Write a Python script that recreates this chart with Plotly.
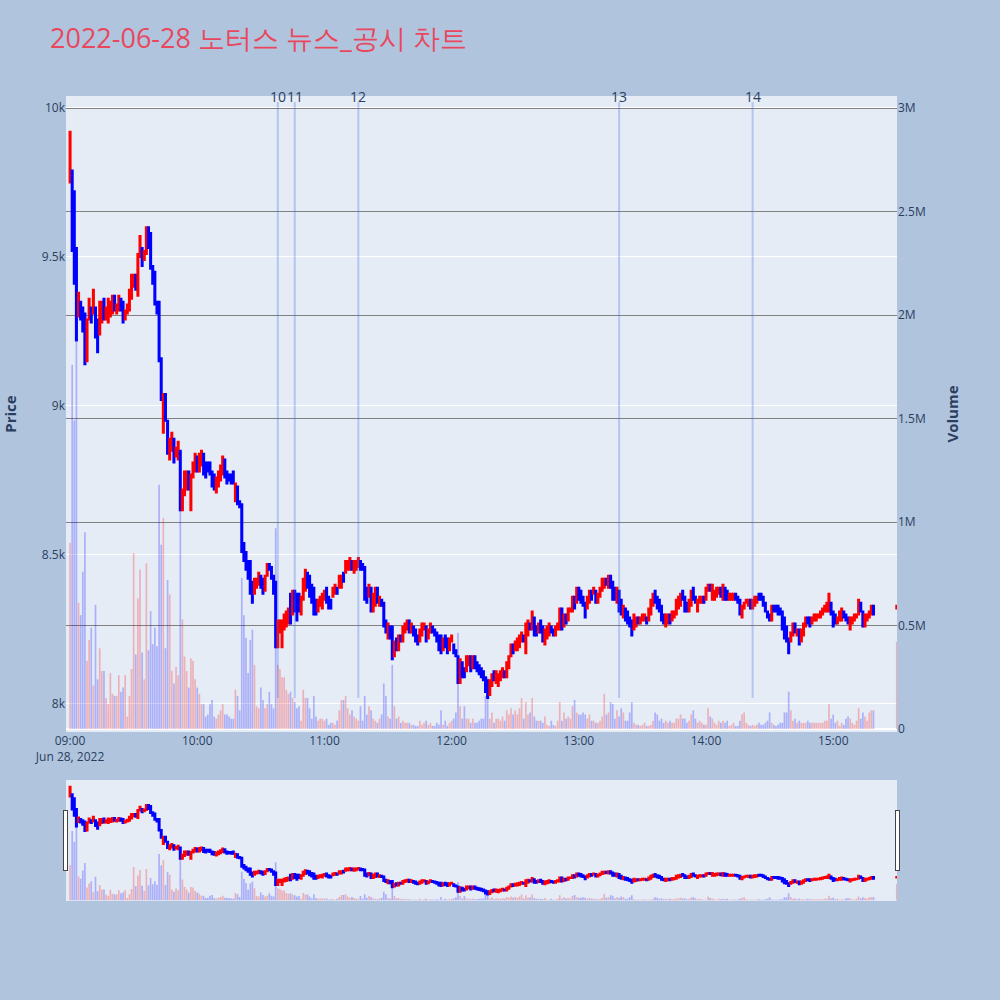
import pandas as pd
import plotly.graph_objects as go
from plotly.subplots import make_subplots

TITLE = "2022-06-28 노터스 뉴스_공시 차트"
DAY = "2022-06-28"

# 1-minute candles from 09:00 (open / close, KRW)
OPEN = [
    9750, 9790, 9720, 9530, 9300, 9350, 9330, 9310, 9150, 9290,
    9330, 9310, 9330, 9290, 9240, 9280, 9360, 9290, 9280, 9300,
    9310, 9370, 9310, 9320, 9360, 9350, 9290, 9310, 9320, 9360,
    9400, 9440, 9370, 9500, 9530, 9490, 9510, 9600, 9580, 9470,
    9450, 9350, 9350, 9160, 8910, 9040, 8950, 8820, 8850, 8890,
    8830, 8820, 8850, 8650, 8700, 8720, 8780, 8650, 8760, 8780,
    8830, 8780, 8800, 8840, 8810, 8810, 8810, 8780, 8770, 8710,
    8730, 8750, 8770, 8820, 8780, 8770, 8770, 8780, 8680, 8730,
    8680, 8670, 8540, 8510, 8480, 8480, 8410, 8370, 8390, 8400,
    8430, 8420, 8380, 8430, 8470, 8460, 8430, 8410, 8190, 8240,
    8190, 8250, 8260, 8270, 8370, 8300, 8380, 8370, 8370, 8300,
    8350, 8380, 8440, 8430, 8400, 8390, 8350, 8310, 8330, 8320,
    8350, 8390, 8360, 8350, 8360, 8370, 8390, 8390, 8390, 8440,
    8440, 8450, 8450, 8480, 8440, 8450, 8460, 8480, 8470, 8460,
    8390, 8360, 8390, 8310, 8330, 8390, 8330, 8350, 8340, 8280,
    8220, 8260, 8260, 8160, 8220, 8180, 8230, 8210, 8240, 8250,
    8280, 8240, 8260, 8250, 8230, 8210, 8230, 8250, 8260, 8220,
    8240, 8260, 8250, 8240, 8230, 8230, 8180, 8230, 8220, 8180,
    8210, 8200, 8180, 8160, 8070, 8140, 8120, 8110, 8130, 8160,
    8120, 8160, 8140, 8130, 8120, 8110, 8090, 8080, 8030, 8060,
    8110, 8070, 8060, 8080, 8090, 8110, 8090, 8120, 8160, 8200,
    8180, 8180, 8190, 8210, 8230, 8170, 8230, 8270, 8250, 8290,
    8260, 8240, 8280, 8260, 8200, 8220, 8230, 8260, 8250, 8230,
    8250, 8250, 8320, 8260, 8300, 8280, 8310, 8310, 8360, 8340,
    8390, 8380, 8360, 8340, 8320, 8340, 8380, 8370, 8380, 8340,
    8360, 8380, 8390, 8420, 8390, 8430, 8410, 8390, 8340, 8380,
    8350, 8290, 8320, 8310, 8290, 8280, 8250, 8260, 8290, 8270,
    8280, 8280, 8290, 8280, 8300, 8330, 8380, 8360, 8350, 8330,
    8300, 8260, 8270, 8300, 8280, 8290, 8300, 8320, 8330, 8380,
    8360, 8340, 8310, 8330, 8390, 8360, 8310, 8340, 8340, 8360,
    8350, 8380, 8400, 8350, 8350, 8360, 8370, 8390, 8350, 8390,
    8380, 8350, 8350, 8350, 8370, 8360, 8350, 8290, 8320, 8340,
    8330, 8350, 8320, 8330, 8340, 8370, 8370, 8360, 8340, 8310,
    8300, 8280, 8330, 8330, 8330, 8320, 8310, 8290, 8260, 8220,
    8210, 8230, 8270, 8230, 8250, 8210, 8230, 8260, 8290, 8290,
    8270, 8280, 8280, 8290, 8290, 8300, 8310, 8310, 8310, 8340,
    8310, 8300, 8270, 8280, 8280, 8310, 8300, 8290, 8250, 8270,
    8280, 8290, 8300, 8340, 8310, 8260, 8280, 8290, 8300, 8330,
]
CLOSE = [
    9920, 9520, 9410, 9220, 9380, 9290, 9250, 9140, 9290, 9360,
    9280, 9390, 9230, 9180, 9350, 9350, 9290, 9330, 9360, 9350,
    9370, 9320, 9340, 9370, 9320, 9280, 9320, 9340, 9390, 9440,
    9440, 9390, 9510, 9570, 9470, 9520, 9600, 9530, 9460, 9410,
    9340, 9310, 9150, 9020, 9040, 8950, 8840, 8890, 8910, 8810,
    8860, 8880, 8650, 8720, 8780, 8780, 8720, 8770, 8810, 8840,
    8780, 8840, 8850, 8770, 8760, 8780, 8770, 8730, 8720, 8760,
    8780, 8800, 8830, 8760, 8740, 8750, 8740, 8740, 8740, 8670,
    8660, 8510, 8480, 8450, 8420, 8370, 8340, 8420, 8420, 8440,
    8390, 8370, 8430, 8470, 8450, 8420, 8370, 8190, 8280, 8280,
    8280, 8300, 8310, 8320, 8270, 8380, 8310, 8280, 8310, 8360,
    8420, 8450, 8390, 8360, 8340, 8300, 8300, 8350, 8360, 8370,
    8380, 8340, 8320, 8320, 8390, 8400, 8370, 8430, 8430, 8410,
    8480, 8480, 8490, 8450, 8480, 8480, 8490, 8450, 8450, 8350,
    8340, 8400, 8310, 8370, 8390, 8340, 8360, 8330, 8260, 8240,
    8270, 8220, 8150, 8210, 8180, 8230, 8210, 8260, 8270, 8280,
    8240, 8270, 8230, 8210, 8200, 8250, 8270, 8270, 8210, 8250,
    8270, 8240, 8230, 8210, 8180, 8170, 8220, 8190, 8170, 8220,
    8230, 8170, 8160, 8070, 8150, 8090, 8090, 8160, 8160, 8110,
    8160, 8120, 8110, 8100, 8090, 8080, 8040, 8020, 8080, 8100,
    8080, 8110, 8100, 8110, 8120, 8090, 8140, 8160, 8200, 8170,
    8210, 8220, 8230, 8240, 8210, 8270, 8280, 8250, 8310, 8230,
    8230, 8270, 8240, 8210, 8250, 8260, 8270, 8240, 8230, 8260,
    8270, 8320, 8250, 8300, 8270, 8320, 8320, 8360, 8320, 8390,
    8350, 8340, 8330, 8290, 8360, 8380, 8350, 8390, 8340, 8370,
    8390, 8420, 8420, 8400, 8430, 8390, 8350, 8350, 8390, 8310,
    8300, 8330, 8280, 8270, 8260, 8230, 8300, 8290, 8270, 8290,
    8300, 8300, 8270, 8320, 8350, 8370, 8340, 8320, 8310, 8280,
    8270, 8300, 8300, 8270, 8310, 8310, 8350, 8360, 8370, 8350,
    8310, 8310, 8350, 8380, 8350, 8340, 8350, 8360, 8360, 8340,
    8390, 8400, 8380, 8400, 8380, 8390, 8390, 8360, 8400, 8350,
    8350, 8370, 8370, 8370, 8350, 8340, 8300, 8330, 8340, 8350,
    8350, 8320, 8350, 8360, 8360, 8350, 8350, 8330, 8310, 8290,
    8280, 8330, 8310, 8310, 8300, 8300, 8250, 8220, 8210, 8170,
    8240, 8270, 8240, 8250, 8200, 8250, 8270, 8290, 8270, 8260,
    8290, 8300, 8300, 8300, 8310, 8320, 8330, 8340, 8370, 8300,
    8260, 8270, 8290, 8310, 8320, 8290, 8280, 8270, 8290, 8290,
    8300, 8300, 8350, 8310, 8260, 8300, 8300, 8310, 8330, 8300,
]
# volume per minute, millions of shares
VOLUME_M = [
    0.90, 1.76, 1.49, 1.87, 0.61, 0.55, 0.76, 0.95, 0.33, 0.43,
    0.49, 0.21, 0.60, 0.24, 0.39, 0.28, 0.28, 0.15, 0.12, 0.27,
    0.17, 0.16, 0.16, 0.26, 0.18, 0.20, 0.26, 0.06, 0.16, 0.29,
    0.85, 0.36, 0.63, 0.77, 0.37, 0.24, 0.80, 0.38, 0.57, 0.41,
    0.49, 0.40, 1.18, 0.89, 1.02, 0.39, 0.72, 0.65, 0.28, 0.22,
    0.30, 0.26, 1.06, 0.53, 0.35, 0.28, 0.20, 0.34, 0.33, 0.24,
    0.20, 0.17, 0.12, 0.12, 0.06, 0.07, 0.12, 0.14, 0.06, 0.05,
    0.07, 0.09, 0.12, 0.07, 0.07, 0.06, 0.05, 0.05, 0.19, 0.16,
    0.09, 0.73, 0.55, 0.44, 0.27, 0.43, 0.48, 0.31, 0.11, 0.10,
    0.20, 0.14, 0.10, 0.12, 0.18, 0.12, 0.10, 0.97, 0.31, 0.29,
    0.25, 0.25, 0.19, 0.17, 0.18, 0.15, 0.13, 0.10, 0.11, 0.04,
    0.19, 0.15, 0.15, 0.10, 0.05, 0.16, 0.06, 0.04, 0.05, 0.05,
    0.04, 0.05, 0.02, 0.03, 0.03, 0.02, 0.04, 0.09, 0.14, 0.14,
    0.16, 0.10, 0.07, 0.09, 0.06, 0.05, 0.04, 0.11, 0.04, 0.16,
    0.07, 0.11, 0.09, 0.05, 0.04, 0.03, 0.05, 0.07, 0.22, 0.16,
    0.06, 0.05, 0.31, 0.11, 0.05, 0.06, 0.03, 0.04, 0.03, 0.03,
    0.03, 0.02, 0.02, 0.015, 0.015, 0.04, 0.02, 0.03, 0.04, 0.02,
    0.03, 0.015, 0.015, 0.03, 0.02, 0.09, 0.02, 0.04, 0.015, 0.03,
    0.04, 0.05, 0.08, 0.465, 0.11, 0.05, 0.11, 0.05, 0.05, 0.03,
    0.05, 0.03, 0.03, 0.04, 0.05, 0.05, 0.16, 0.25, 0.05, 0.08,
    0.03, 0.05, 0.05, 0.04, 0.06, 0.04, 0.09, 0.07, 0.10, 0.07,
    0.09, 0.07, 0.10, 0.15, 0.05, 0.13, 0.07, 0.08, 0.15, 0.06,
    0.04, 0.04, 0.04, 0.03, 0.06, 0.02, 0.015, 0.04, 0.02, 0.015,
    0.04, 0.13, 0.04, 0.08, 0.05, 0.06, 0.05, 0.11, 0.14, 0.08,
    0.07, 0.07, 0.08, 0.07, 0.05, 0.07, 0.04, 0.04, 0.03, 0.03,
    0.04, 0.06, 0.17, 0.07, 0.08, 0.13, 0.12, 0.05, 0.09, 0.06,
    0.10, 0.08, 0.04, 0.04, 0.08, 0.13, 0.03, 0.02, 0.02, 0.015,
    0.02, 0.03, 0.015, 0.015, 0.02, 0.04, 0.08, 0.07, 0.04, 0.05,
    0.03, 0.04, 0.03, 0.04, 0.03, 0.03, 0.05, 0.05, 0.07, 0.05,
    0.05, 0.03, 0.04, 0.07, 0.09, 0.05, 0.03, 0.04, 0.03, 0.02,
    0.02, 0.10, 0.06, 0.05, 0.03, 0.02, 0.04, 0.03, 0.04, 0.03,
    0.04, 0.015, 0.02, 0.03, 0.015, 0.015, 0.04, 0.07, 0.08, 0.03,
    0.02, 0.015, 0.02, 0.015, 0.02, 0.03, 0.02, 0.02, 0.03, 0.04,
    0.08, 0.03, 0.02, 0.015, 0.02, 0.03, 0.03, 0.08, 0.08, 0.18,
    0.09, 0.04, 0.05, 0.03, 0.04, 0.03, 0.03, 0.03, 0.04, 0.03,
    0.03, 0.03, 0.03, 0.03, 0.03, 0.03, 0.04, 0.04, 0.12, 0.05,
    0.07, 0.03, 0.04, 0.015, 0.03, 0.02, 0.05, 0.06, 0.05, 0.03,
    0.02, 0.04, 0.10, 0.05, 0.08, 0.06, 0.04, 0.08, 0.09, 0.09,
]
# closing auction candle
AUCTION_TIME = "15:30"
AUCTION_OPEN = 8320
AUCTION_CLOSE = 8330
AUCTION_VOLUME_M = 0.42

# news / disclosure markers
NEWS_LABELS = ["10", "11", "12", "13", "14"]
NEWS_TIMES = ["10:38", "10:46", "11:16", "13:19", "14:22"]
NEWS_LOW = 8020
NEWS_HIGH = 10020

X_START = f"{DAY} 08:58:05"
X_END = f"{DAY} 15:30:06"

times = list(pd.date_range(f"{DAY} 09:00", periods=len(CLOSE), freq="min"))
times.append(pd.Timestamp(f"{DAY} {AUCTION_TIME}"))
opens = OPEN + [AUCTION_OPEN]
closes = CLOSE + [AUCTION_CLOSE]
highs = [max(o, c) for o, c in zip(opens, closes)]
lows = [min(o, c) for o, c in zip(opens, closes)]
vols = [v * 1e6 for v in VOLUME_M + [AUCTION_VOLUME_M]]
bar_colors = ["rgba(255,0,0,0.25)" if c > o else "rgba(0,0,255,0.25)"
              for o, c in zip(opens, closes)]

fig = make_subplots(specs=[[{"secondary_y": True}]])
fig.add_trace(go.Candlestick(
    x=times, open=opens, high=highs, low=lows, close=closes,
    increasing=dict(line=dict(color="#FF0000", width=2), fillcolor="#FF0000"),
    decreasing=dict(line=dict(color="#0000FF", width=2), fillcolor="#0000FF"),
    name="Price", showlegend=False,
), secondary_y=False)
fig.add_trace(go.Bar(
    x=times, y=vols, marker=dict(color=bar_colors, line=dict(width=0)),
    name="Volume", showlegend=False,
), secondary_y=True)

for lab, t in zip(NEWS_LABELS, NEWS_TIMES):
    ts = f"{DAY} {t}"
    fig.add_shape(type="line", xref="x", yref="y", x0=ts, x1=ts,
                  y0=NEWS_LOW, y1=NEWS_HIGH,
                  line=dict(color="rgba(65,105,225,0.3)", width=2))
    fig.add_annotation(x=ts, xref="x", y=1, yref="paper", text=lab,
                       showarrow=False, yanchor="middle",
                       font=dict(size=14, color="#2a3f5f"))

fig.update_layout(
    width=1000, height=1000,
    title=dict(text=TITLE, font=dict(size=27, color="#E8485E")),
    paper_bgcolor="#B0C4DE",
    plot_bgcolor="#E5ECF6",
    margin=dict(l=66, r=103, t=96, b=100),
    showlegend=False,
    xaxis=dict(domain=[0, 1], range=[X_START, X_END],
               rangeslider=dict(visible=True, range=[X_START, X_END])),
)
fig.update_yaxes(title=dict(text="<b>Price</b>", font=dict(size=15), standoff=22),
                 range=[7906, 10040], automargin=False, secondary_y=False)
fig.update_yaxes(title=dict(text="<b>Volume</b>", font=dict(size=15), standoff=22),
                 range=[-14500, 3058000], automargin=False,
                 showgrid=True, gridcolor="gray", secondary_y=True)

fig.write_html(
    "out.html",
    config={"responsive": False, "displayModeBar": False},
    post_script="document.body.style.margin='0';document.body.style.overflow='hidden';",
)
